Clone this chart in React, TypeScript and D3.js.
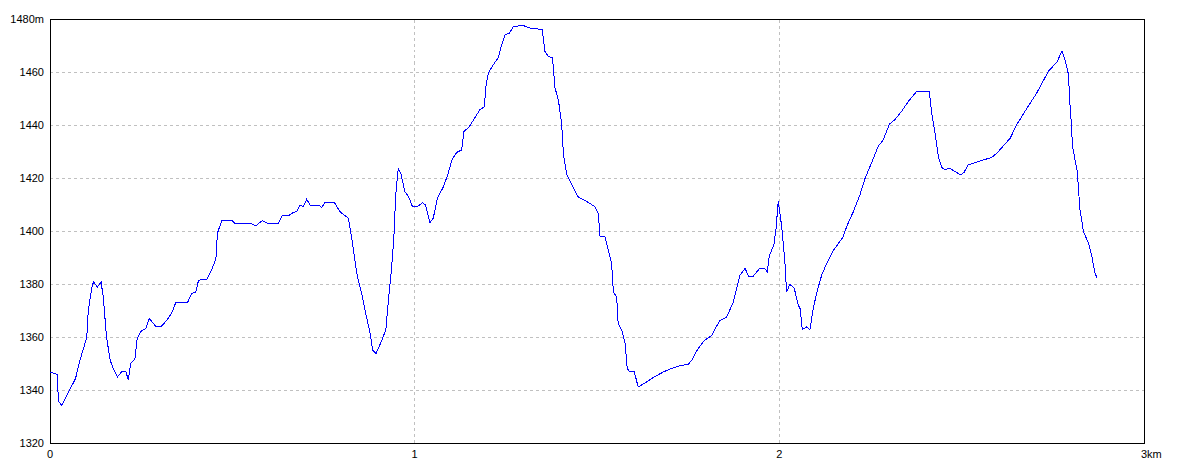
import React from "react";
import * as d3 from "d3";

const distanceKm: number[] = [
  0.0, 0.020, 0.023, 0.032, 0.070, 0.082, 0.098, 0.101, 0.105, 0.116,
  0.120, 0.130, 0.140, 0.146, 0.155, 0.165, 0.174, 0.185, 0.196, 0.208,
  0.215, 0.221, 0.233, 0.239, 0.250, 0.263, 0.272, 0.291, 0.306, 0.320,
  0.334, 0.345, 0.377, 0.389, 0.400, 0.407, 0.416, 0.430, 0.443, 0.455,
  0.459, 0.471, 0.500, 0.507, 0.551, 0.564, 0.582, 0.596, 0.626, 0.637,
  0.656, 0.666, 0.677, 0.686, 0.695, 0.704, 0.713, 0.736, 0.745, 0.754,
  0.780, 0.795, 0.818, 0.827, 0.836, 0.843, 0.855, 0.866, 0.878, 0.885,
  0.894, 0.910, 0.921, 0.928, 0.937, 0.943, 0.948, 0.955, 0.962, 0.973,
  0.983, 0.994, 1.007, 1.022, 1.030, 1.042, 1.051, 1.062, 1.079, 1.092,
  1.102, 1.115, 1.129, 1.135, 1.150, 1.170, 1.179, 1.191, 1.196, 1.202,
  1.216, 1.229, 1.237, 1.248, 1.259, 1.270, 1.281, 1.294, 1.316, 1.350,
  1.357, 1.366, 1.378, 1.385, 1.394, 1.403, 1.408, 1.417, 1.431, 1.449,
  1.472, 1.494, 1.504, 1.508, 1.522, 1.531, 1.540, 1.545, 1.554, 1.558,
  1.568, 1.577, 1.583, 1.589, 1.602, 1.613, 1.636, 1.659, 1.682, 1.702,
  1.728, 1.750, 1.760, 1.773, 1.794, 1.815, 1.828, 1.837, 1.856, 1.874,
  1.892, 1.906, 1.917, 1.927, 1.945, 1.961, 1.967, 1.972, 1.979, 1.985,
  1.991, 1.997, 2.006, 2.015, 2.018, 2.020, 2.029, 2.041, 2.052, 2.057,
  2.063, 2.075, 2.084, 2.093, 2.102, 2.116, 2.130, 2.148, 2.175, 2.185,
  2.203, 2.221, 2.235, 2.258, 2.271, 2.285, 2.302, 2.317, 2.335, 2.354,
  2.377, 2.411, 2.418, 2.427, 2.436, 2.445, 2.454, 2.466, 2.482, 2.497,
  2.506, 2.518, 2.532, 2.559, 2.582, 2.596, 2.633, 2.651, 2.678, 2.706,
  2.738, 2.761, 2.775, 2.784, 2.793, 2.796, 2.800, 2.804, 2.811, 2.817,
  2.820, 2.824, 2.834, 2.848, 2.857, 2.866, 2.872,
];

const elevationM: number[] = [
  1347, 1346, 1336, 1334.4, 1344.5, 1351.4, 1358.7, 1360.5, 1370.3, 1379.8,
  1381, 1379, 1381, 1375.3, 1360.2, 1351.4, 1348.2, 1345.1, 1347, 1347,
  1344.1, 1350.1, 1352, 1359.6, 1362.4, 1363.4, 1367.2, 1364, 1364.3, 1366.5,
  1369.3, 1373.2, 1373.2, 1376.6, 1377.2, 1381.4, 1381.9, 1381.9, 1385.4, 1389.8,
  1399.3, 1404.1, 1404.1, 1403.1, 1403.1, 1402.1, 1404.1, 1403.1, 1403.1, 1406.1,
  1406.1, 1407.1, 1407.5, 1410, 1409.4, 1412.2, 1410, 1410, 1409.1, 1410.9,
  1410.9, 1407.5, 1405, 1398, 1389.2, 1382.9, 1376.6, 1369, 1361.5, 1355.2,
  1353.9, 1358.9, 1363, 1374.1, 1386.7, 1398, 1413.8, 1423.9, 1422, 1415,
  1413.2, 1409.4, 1409.4, 1410.9, 1409.9, 1403.3, 1405, 1412.5, 1416.9, 1422,
  1427, 1429.8, 1430.8, 1437.7, 1439.6, 1444, 1446, 1447, 1455.4, 1459.8,
  1463, 1465.5, 1469.9, 1474.3, 1474.7, 1477.2, 1477.5, 1477.9, 1476.8, 1476.2,
  1468, 1466.1, 1465.5, 1454.1, 1449.7, 1440.9, 1428.9, 1421.4, 1417.6, 1412.9,
  1411.3, 1409.4, 1406.5, 1398.3, 1398, 1393, 1388, 1377.2, 1375.3, 1365.3,
  1362.7, 1357.7, 1348.2, 1347.2, 1347.2, 1341.3, 1343.2, 1345.3, 1347, 1348.2,
  1349.4, 1349.9, 1351.4, 1354.9, 1358.9, 1360.8, 1364.3, 1366.3, 1367.8, 1373.4,
  1383.5, 1386, 1382.9, 1382.9, 1385.9, 1385.9, 1384.8, 1390.5, 1393, 1394.9,
  1401.2, 1411.3, 1402.4, 1389.2, 1381.6, 1377.2, 1380.1, 1378.5, 1372.2, 1370.9,
  1363, 1364, 1363, 1370.9, 1376.6, 1383.5, 1388, 1392.8, 1398, 1402,
  1407.5, 1413.8, 1420, 1427.6, 1432.1, 1434.6, 1440.5, 1442.2, 1445.3, 1449.1,
  1452.9, 1452.9, 1444.7, 1437.1, 1428.3, 1424.3, 1423.2, 1423.9, 1422.6, 1421.4,
  1422.2, 1425.1, 1425.8, 1427, 1427.9, 1429.5, 1435.2, 1440.3, 1446.3, 1452.3,
  1460.5, 1463.9, 1468, 1464.4, 1459.2, 1449.7, 1442.2, 1432.1, 1427, 1422.6,
  1416.9, 1408.7, 1399.9, 1395.5, 1390.5, 1384.2, 1382.3,
];

const yTicks: number[] = [1320, 1340, 1360, 1380, 1400, 1420, 1440, 1460, 1480];
const yTickLabels: string[] = ["1320", "1340", "1360", "1380", "1400", "1420", "1440", "1460", "1480m"];
const xTicks: number[] = [0, 1, 2, 3];
const xTickLabels: string[] = ["0", "1", "2", "3km"];

const W = 1184;
const H = 473;
const LEFT = 50;
const RIGHT = 1144;
const TOP = 19.5;
const BOTTOM = 443.5;

export default function App() {
  const x = d3.scaleLinear().domain([0, 3]).range([LEFT, RIGHT]);
  const y = d3.scaleLinear().domain([1320, 1480]).range([BOTTOM, TOP]);
  const data = distanceKm.map((d, i) => [d, elevationM[i]] as [number, number]);
  const line = d3
    .line<[number, number]>()
    .x((d) => x(d[0]))
    .y((d) => y(d[1]));
  const font = "'Liberation Sans', Arial, sans-serif";
  const px = (v: number) => Math.floor(v) + 0.5;

  return (
    <svg
      width={W}
      height={H}
      style={{ position: "absolute", left: 0, top: 0, background: "#fff" }}
    >
      <rect x={0} y={0} width={W} height={H} fill="#fff" />
      {/* horizontal grid */}
      {yTicks.slice(1, -1).map((t) => (
        <line
          key={"hg" + t}
          x1={LEFT}
          x2={RIGHT}
          y1={px(y(t))}
          y2={px(y(t))}
          stroke="#c0c0c0"
          strokeWidth={1}
          strokeDasharray="3,3"
          shapeRendering="crispEdges"
        />
      ))}
      {/* vertical grid */}
      {xTicks.slice(1, -1).map((t) => (
        <line
          key={"vg" + t}
          x1={px(x(t))}
          x2={px(x(t))}
          y1={TOP}
          y2={BOTTOM}
          stroke="#c0c0c0"
          strokeWidth={1}
          strokeDasharray="3,3"
          shapeRendering="crispEdges"
        />
      ))}
      {/* frame */}
      <rect
        x={LEFT + 0.5}
        y={px(TOP)}
        width={RIGHT - LEFT}
        height={px(BOTTOM) - px(TOP)}
        fill="none"
        stroke="#000"
        strokeWidth={1}
        shapeRendering="crispEdges"
      />
      {/* profile line */}
      <path
        d={line(data) || ""}
        fill="none"
        stroke="#0000ff"
        strokeWidth={1}
        shapeRendering="crispEdges"
      />
      {/* y labels */}
      {yTicks.map((t, i) => (
        <text
          key={"yl" + t}
          x={44}
          y={y(t)}
          dy="0.36em"
          textAnchor="end"
          fontFamily={font}
          fontSize={11}
          fill="#000"
        >
          {yTickLabels[i]}
        </text>
      ))}
      {/* x labels */}
      {xTicks.map((t, i) => (
        <text
          key={"xl" + t}
          x={i === xTicks.length - 1 ? x(t) - 3 : x(t)}
          y={457.5}
          textAnchor={i === xTicks.length - 1 ? "start" : "middle"}
          fontFamily={font}
          fontSize={11}
          fill="#000"
        >
          {xTickLabels[i]}
        </text>
      ))}
    </svg>
  );
}
